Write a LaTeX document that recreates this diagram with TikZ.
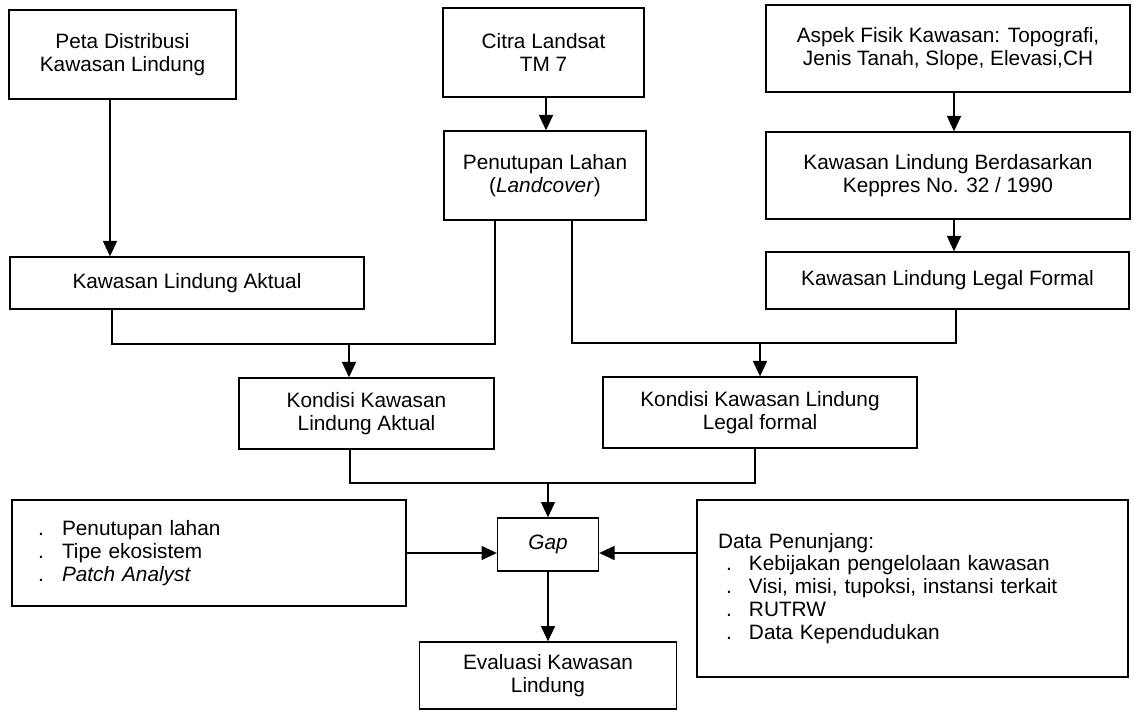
\documentclass[tikz,border=0pt]{standalone}
\usepackage{fontspec}
\setmainfont{Liberation Sans}
\usetikzlibrary{calc,arrows.meta}
\tikzset{
	box/.style={draw=black, line width=1pt, align=center, inner sep=2pt, font=\fontsize{15.6}{17.2}\selectfont},
	listbox/.style={box, align=left},
	link/.style={line width=1.1pt},
	flow/.style={link, -{Triangle[length=11.5pt,width=10.5pt]}}
}
\newcommand{\titik}[1]{\makebox[#1][l]{.}}

\begin{document}
\begin{tikzpicture}[x=0.75pt, y=-0.75pt]
			%%%%% START %%%%%
			\useasboundingbox (0, 0) rectangle (1134, 712);
			
			\node[box, minimum width=170.25pt, minimum height=66.75pt] (peta) at (122.5, 54.5) {Peta Distribusi\\Kawasan Lindung};
			\node[box, minimum width=150.75pt, minimum height=66.75pt] (citra) at (543.5, 52.5) {Citra Landsat\\TM 7};
			\node[box, minimum width=151.5pt, minimum height=66.75pt] (tutupan) at (545, 175.5) {Penutupan Lahan\\(\textit{Landcover})};
			\node[box, minimum width=273pt, minimum height=65.25pt] (fisik) at (948, 48.5) {Aspek Fisik Kawasan: Topografi,\\Jenis Tanah, Slope, Elevasi,CH};
			\node[box, minimum width=273pt, minimum height=65.25pt] (keppres) at (948, 175.5) {Kawasan Lindung Berdasarkan\\Keppres No. 32 / 1990};
			\node[box, minimum width=272.25pt, minimum height=42.75pt] (legal) at (947.5, 280.5) {Kawasan Lindung Legal Formal};
			\node[box, minimum width=265.5pt, minimum height=39pt] (aktual) at (187, 283) {Kawasan Lindung Aktual};
			
			\node[box, minimum width=191.25pt, minimum height=53.25pt] (kondaktual) at (366.5, 413.5) {Kondisi Kawasan\\Lindung Aktual};
			\node[box, minimum width=235.5pt, minimum height=53.25pt] (kondlegal) at (760, 412.5) {Kondisi Kawasan Lindung\\Legal formal};
			
			\node[box, minimum width=75.75pt, minimum height=39.75pt] (gap) at (548, 544.5) {\textit{Gap}};
			\node[listbox, text width=256.5pt, minimum width=295.5pt, minimum height=79.5pt] (analisis) at (209, 553) {\titik{18pt}Penutupan lahan\\\titik{18pt}Tipe ekosistem\\\titik{18pt}\textit{Patch Analyst}};
			\node[listbox, text width=291.75pt, minimum width=323.25pt, minimum height=132.75pt] (penunjang) at (912.5, 588.5) {Data Penunjang:\\\hspace*{6pt}\titik{17.25pt}Kebijakan pengelolaan kawasan\\\hspace*{6pt}\titik{17.25pt}Visi, misi, tupoksi, instansi terkait\\\hspace*{6pt}\titik{17.25pt}RUTRW\\\hspace*{6pt}\titik{17.25pt}Data Kependudukan};
			\node[box, minimum width=192.75pt, minimum height=50.25pt] (evaluasi) at (548, 675.5) {Evaluasi Kawasan\\Lindung};
			
			% junctions
			\coordinate (j1) at (349, 344);
			\coordinate (j2) at (760, 343);
			\coordinate (j3) at (548, 483);
			
			\draw[flow] ($(peta.south)+(-12.5,0)$) -- ($(aktual.north)+(-77,0)$);
			\draw[flow] ($(citra.south)+(2.5,0)$) -- ($(tutupan.north)+(1,0)$);
			\draw[flow] ($(fisik.south)+(6,0)$) -- ($(keppres.north)+(6,0)$);
			\draw[flow] ($(keppres.south)+(6,0)$) -- ($(legal.north)+(6.5,0)$);
			
			\draw[link] ($(aktual.south)+(-75,0)$) |- (j1);
			\draw[link] ($(tutupan.south)+(-50,0)$) |- (j1);
			\draw[flow] (j1) -- (j1 |- kondaktual.north);
			
			\draw[link] ($(tutupan.south)+(27,0)$) |- (j2);
			\draw[link] ($(legal.south)+(8.5,0)$) |- (j2);
			\draw[flow] (j2) -- (kondlegal.north);
			
			\draw[link] ($(kondaktual.south)+(-16.5,0)$) |- (j3);
			\draw[link] ($(kondlegal.south)+(-5,0)$) |- (j3);
			\draw[flow] (j3) -- (j3 |- gap.north);
			
			\draw[flow] (analisis.east) -- (analisis.east -| gap.west);
			\draw[flow] (penunjang.west |- analisis.east) -- (gap.east |- analisis.east);
			\draw[flow] (gap.south) -- (evaluasi.north);
			%%%%% END %%%%%
\end{tikzpicture}
\end{document}
